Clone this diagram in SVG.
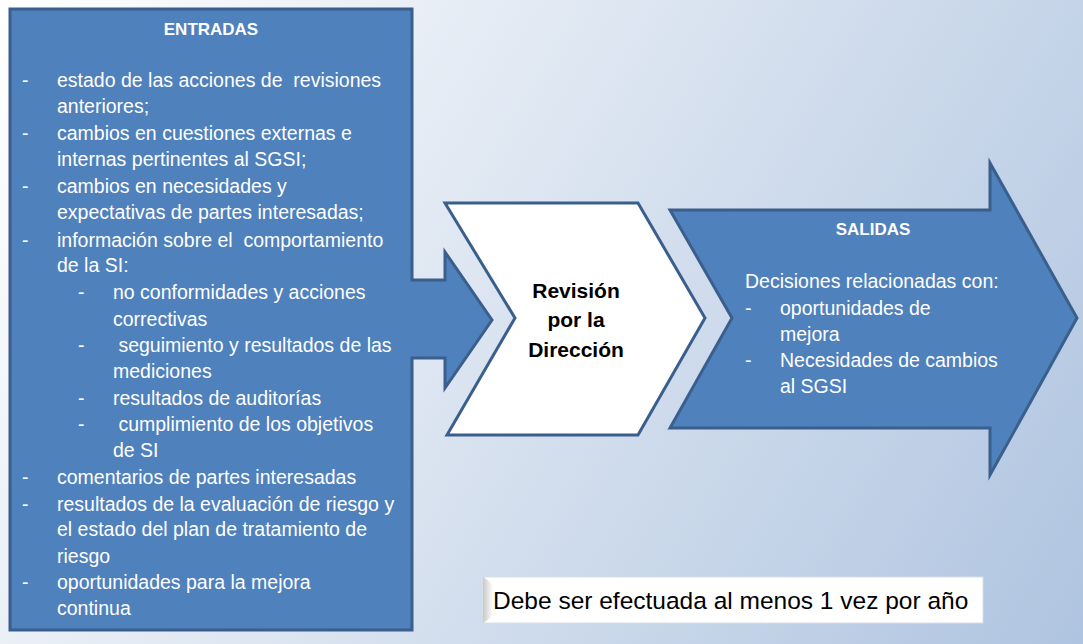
<svg xmlns="http://www.w3.org/2000/svg" width="1083" height="644" viewBox="0 0 1083 644">
<defs>
<linearGradient id="bg" x1="0" y1="0" x2="1083" y2="644" gradientUnits="userSpaceOnUse">
<stop offset="0" stop-color="#ffffff"/>
<stop offset="0.45" stop-color="#dce5f1"/>
<stop offset="1" stop-color="#afc4e0"/>
</linearGradient>
<linearGradient id="bevel" x1="0" y1="0" x2="1" y2="0">
<stop offset="0" stop-color="#c9c9c9"/>
<stop offset="1" stop-color="#ffffff"/>
</linearGradient>
<style>
.shape{fill:#4f81bd;stroke:#3a5f8d;stroke-width:3;stroke-linejoin:miter}
.w{fill:#ffffff;font-family:"Liberation Sans",Arial,sans-serif;font-size:19.5px;white-space:pre}
.t{fill:#ffffff;font-family:"Liberation Sans",Arial,sans-serif;font-size:17px;font-weight:bold;text-anchor:middle}
.c{fill:#000000;font-family:"Liberation Sans",Arial,sans-serif;font-size:21px;font-weight:bold;text-anchor:middle}
</style>
</defs>
<rect width="1083" height="644" fill="url(#bg)"/>
<g id="connectors"/>
<g id="entradas">
<path class="shape" d="M10,9 L412,9 L412,280 L445,280 L445,252 L492,320 L445,388 L445,358 L412,358 L412,630 L10,630 Z"/>
<text class="t" x="211" y="35">ENTRADAS</text>
<g class="w">
<text x="22" y="87">-</text><text x="57" y="87" xml:space="preserve">estado de las acciones de  revisiones</text>
<text x="57" y="113">anteriores;</text>
<text x="22" y="140">-</text><text x="57" y="140">cambios en cuestiones externas e</text>
<text x="57" y="166">internas pertinentes al SGSI;</text>
<text x="22" y="193">-</text><text x="57" y="193">cambios en necesidades y</text>
<text x="57" y="219">expectativas de partes interesadas;</text>
<text x="22" y="247">-</text><text x="57" y="247" xml:space="preserve">información sobre el  comportamiento</text>
<text x="57" y="272">de la SI:</text>
<text x="78" y="299">-</text><text x="113" y="299">no conformidades y acciones</text>
<text x="113" y="326">correctivas</text>
<text x="78" y="352">-</text><text x="113" y="352" xml:space="preserve"> seguimiento y resultados de las</text>
<text x="113" y="378">mediciones</text>
<text x="78" y="405">-</text><text x="113" y="405">resultados de auditorías</text>
<text x="78" y="431">-</text><text x="113" y="431" xml:space="preserve"> cumplimiento de los objetivos</text>
<text x="113" y="457">de SI</text>
<text x="22" y="484">-</text><text x="57" y="484">comentarios de partes interesadas</text>
<text x="22" y="511">-</text><text x="57" y="511">resultados de la evaluación de riesgo y</text>
<text x="57" y="536">el estado del plan de tratamiento de</text>
<text x="57" y="563">riesgo</text>
<text x="22" y="589">-</text><text x="57" y="589">oportunidades para la mejora</text>
<text x="57" y="615">continua</text>
</g>
</g>
<g id="revision">
<path d="M445,203 L638,203 L705,318 L638,435 L447,435 L515,318 Z" fill="#ffffff" stroke="#3a5f8d" stroke-width="3"/>
<text class="c" x="576" y="298">Revisión</text>
<text class="c" x="576" y="327">por la</text>
<text class="c" x="576" y="357">Dirección</text>
</g>
<g id="salidas">
<path class="shape" d="M670,210 L990,210 L990,163 L1077,318 L990,475 L990,428 L670,428 L732,318 Z"/>
<text class="t" x="873" y="235">SALIDAS</text>
<g class="w">
<text x="745" y="288">Decisiones relacionadas con:</text>
<text x="745" y="315">-</text><text x="780" y="315">oportunidades de</text>
<text x="780" y="341">mejora</text>
<text x="745" y="367">-</text><text x="780" y="367">Necesidades de cambios</text>
<text x="780" y="393">al SGSI</text>
</g>
</g>
<g id="nota">
<rect x="483" y="577" width="500" height="46" fill="#ffffff" stroke="#d8dde6" stroke-width="1"/>
<polygon points="483,577 493,584 493,616 483,623" fill="url(#bevel)"/>
<text x="493" y="609" font-family="'Liberation Sans',Arial,sans-serif" font-size="24.5" fill="#000000">Debe ser efectuada al menos 1 vez por año</text>
</g>
</svg>
